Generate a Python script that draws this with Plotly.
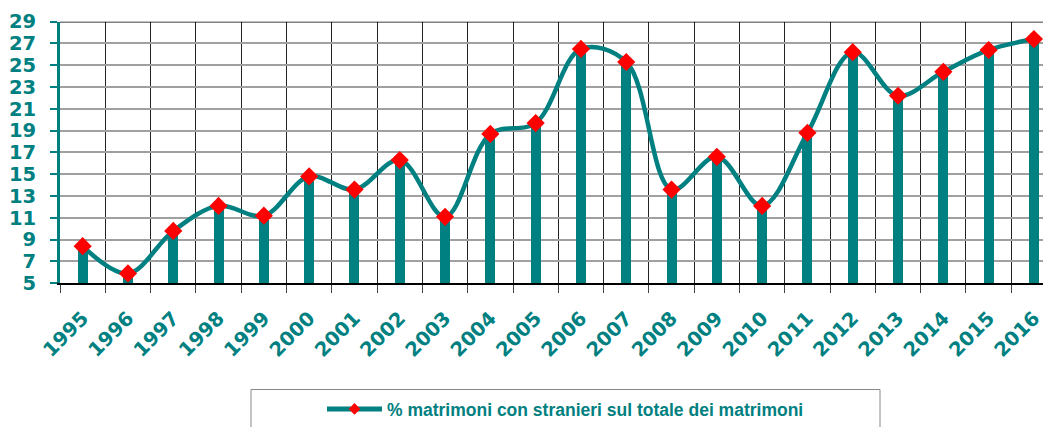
import plotly.graph_objects as go

years = [str(y) for y in range(1995, 2017)]
values = [8.4, 5.9, 9.8, 12.1, 11.2, 14.8, 13.6, 16.3, 11.1, 18.7, 19.7,
          26.5, 25.3, 13.6, 16.6, 12.1, 18.8, 26.2, 22.2, 24.4, 26.4, 27.4]
y_ticks = list(range(5, 30, 2))
series_name = "% matrimoni con stranieri sul totale dei matrimoni"

TEAL = "#008080"
W, H = 1043, 427
# plot area in pixels
PL, PR, PT, PB = 60, 1043, 22, 288

def px(x):
    return x / W

def py(y):
    return 1 - y / H

fig = go.Figure()
fig.add_trace(go.Bar(x=years, y=values, width=0.22, marker=dict(color=TEAL, line_width=0),
                     showlegend=False, hoverinfo="skip"))
fig.add_trace(go.Scatter(x=years, y=values, mode="lines+markers", name=series_name,
                         showlegend=False,
                         line=dict(color=TEAL, width=4.5, shape="spline", smoothing=1),
                         marker=dict(symbol="diamond", color="#ff0000", size=14)))
# legend entry (same series styling, smaller legend marker)
fig.add_trace(go.Scatter(x=[years[0]], y=[None], mode="lines+markers", name=series_name,
                         line=dict(color=TEAL, width=5),
                         marker=dict(symbol="diamond", color="#ff0000", size=9)))

fig.add_shape(type="rect", xref="paper", yref="paper",
              x0=px(251), x1=px(880), y0=py(396), y1=py(440),
              line=dict(color="#888888", width=1), fillcolor="rgba(0,0,0,0)")
fig.add_shape(type="line", xref="paper", yref="y", x0=px(PL), x1=1, y0=29, y1=29,
              line=dict(color="black", width=1.5))

tickfont = dict(family="DejaVu Sans", size=19.5, color=TEAL, weight="bold")

fig.update_layout(
    width=W, height=H,
    margin=dict(l=0, r=0, t=0, b=0),
    plot_bgcolor="white", paper_bgcolor="white",
    bargap=0,
    legend=dict(orientation="h", x=px(322), xanchor="left",
                y=py(416), yanchor="middle",
                itemwidth=55,
                font=dict(family="Liberation Sans", size=17.5, color=TEAL, weight="bold"),
                bgcolor="rgba(0,0,0,0)", borderwidth=0),
    xaxis=dict(type="category", range=[-0.5, 21.2], tickson="boundaries",
               domain=[px(PL), px(PR)],
               automargin=False,
               showgrid=True, gridcolor="#222222", gridwidth=1,
               ticks="outside", ticklen=8, tickcolor="#444444",
               tickangle=-45, ticklabelstandoff=14,
               tickfont=tickfont,
               showline=True, linecolor="black", linewidth=1.5, mirror=False),
    yaxis=dict(range=[5, 29], tickvals=y_ticks, showgrid=True, gridcolor="#a0a0a0",
               domain=[py(PB), py(PT)],
               automargin=False,
               gridwidth=1.5, ticks="outside", ticklen=7, tickcolor=TEAL, tickwidth=2,
               ticklabelstandoff=10,
               tickfont=tickfont,
               showline=True, linecolor=TEAL, linewidth=3, zeroline=False),
)

fig.write_html("out.html",
               config={"displayModeBar": False},
               post_script="document.body.style.margin='0';document.body.style.overflow='hidden';")
